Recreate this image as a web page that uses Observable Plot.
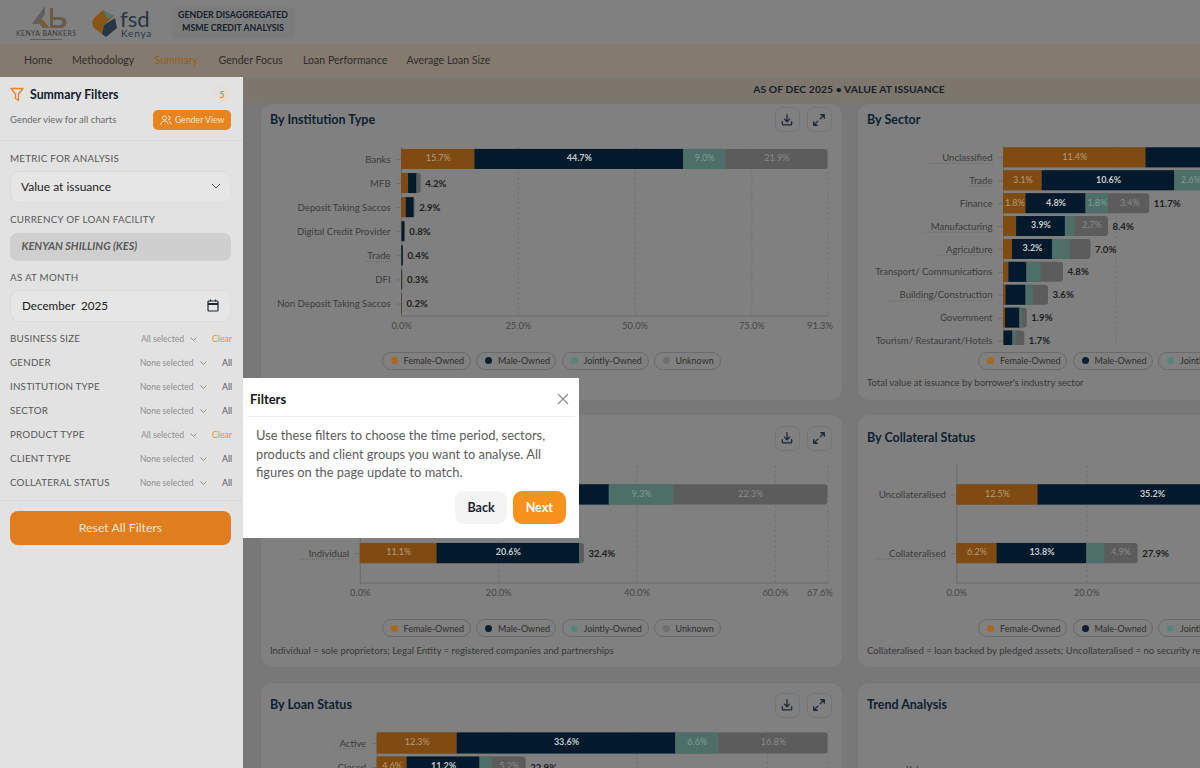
<!DOCTYPE html>
<html><head><meta charset="utf-8">
<script src="https://cdn.jsdelivr.net/npm/d3@7"></script>
<script src="https://cdn.jsdelivr.net/npm/@observablehq/plot@0.6"></script>
<style>
html,body{margin:0;padding:0;width:1200px;height:768px;overflow:hidden;background:#787878;font-family:Lato,sans-serif}
#page{position:absolute;left:0;top:0;width:1200px;height:768px;overflow:hidden}
.a{position:absolute;box-sizing:border-box}
.t{position:absolute;white-space:nowrap;transform:translateY(-50%);line-height:1}
.btn{position:absolute;width:25px;height:25px;box-sizing:border-box;border:1px solid #767676;border-radius:7px;display:flex;align-items:center;justify-content:center}
.pill{position:absolute;box-sizing:border-box;height:18px;border:1px solid #6a6a6a;border-radius:9px;font-size:9px;color:#2e2e2e;display:flex;align-items:center;white-space:nowrap;padding-left:8px}
.pill i{display:inline-block;width:7px;height:7px;border-radius:50%;margin-right:6px}
.plot{position:absolute;overflow:hidden}
.plot svg{display:block}
</style></head><body><div id="page"></div>
<script>
// ---- data (percent of total value at issuance) ----
const seriesNames = ["Female-Owned","Male-Owned","Jointly-Owned","Unknown"];
const seriesColors = ["#7f4b13","#021a2b","#4d6f67","#5c5c5c"];
const labelColors = ["#b89a78","#c6cbd0","#7f9c95","#8a8a8a"];
const legendDots = ["#ac6818","#0a1f31","#55857a","#6f6f6f"];

const instCategories = ["Banks","MFB","Deposit Taking Saccos","Digital Credit Provider","Trade","DFI","Non Deposit Taking Saccos"];
const instFemale  = [15.7,1.5,1.0,0.1,0.05,0.1,0.1];
const instMale    = [44.7,1.8,1.7,0.6,0.3,0.1,0.05];
const instJoint   = [9.0,0.1,0.1,0.0,0.0,0.0,0.0];
const instUnknown = [21.9,0.8,0.1,0.1,0.05,0.1,0.05];
const instTotals  = [91.3,4.2,2.9,0.8,0.4,0.3,0.2];
const instTicks   = [0,25,50,75,91.3];

const sectorCategories = ["Unclassified","Trade","Finance","Manufacturing","Agriculture","Transport/ Communications","Building/Construction","Government","Tourism/ Restaurant/Hotels"];
const sectorFemale  = [11.4,3.1,1.8,1.05,0.72,0.43,0.2,0.16,0.05];
const sectorMale    = [13.2,10.6,4.8,3.9,3.2,1.44,1.6,1.15,0.7];
const sectorJoint   = [2.0,2.6,1.8,0.77,1.44,1.12,0.59,0.2,0.27];
const sectorUnknown = [5.5,3.0,3.4,2.7,1.65,1.76,1.2,0.37,0.67];
const sectorTotals  = [32.1,19.3,11.7,8.4,7.0,4.8,3.6,1.9,1.7];
const sectorTicks   = [0,9,18,27,32.1];

const clientCategories = ["Legal Entity","Individual"];
const clientFemale  = [7.6,11.1];
const clientMale    = [28.4,20.6];
const clientJoint   = [9.3,0.1];
const clientUnknown = [22.3,0.6];
const clientTotals  = [67.6,32.4];
const clientTicks   = [0,20,40,60,67.6];

const collCategories = ["Uncollateralised","Collateralised"];
const collFemale  = [12.5,6.2];
const collMale    = [35.2,13.8];
const collJoint   = [6.6,2.8];
const collUnknown = [17.8,4.9];
const collTotals  = [72.1,27.9];
const collTicks   = [0,20,40,60,72.1];

const loanCategories = ["Active","Closed"];
const loanFemale  = [12.3,4.6];
const loanMale    = [33.6,11.2];
const loanJoint   = [6.6,1.9];
const loanUnknown = [16.8,5.2];
const loanTotals  = [69.3,22.9];
const loanTicks   = [0,20,40,60,69.3];

const navItems = ["Home","Methodology","Summary","Gender Focus","Loan Performance","Average Loan Size"];
const navX = [24,72,154.5,218.5,303,406.5];
const filterRows = ["BUSINESS SIZE","GENDER","INSTITUTION TYPE","SECTOR","PRODUCT TYPE","CLIENT TYPE","COLLATERAL STATUS"];
const filterAll = [true,false,false,false,true,false,false];

// ---- page furniture ----
const page = document.getElementById("page");
function add(html){page.insertAdjacentHTML("beforeend",html);}
function txt(x,y,s,st){add(`<div class="t" style="left:${x}px;top:${y}px;${st||""}">${s}</div>`);}
function box(x,y,w,h,st){add(`<div class="a" style="left:${x}px;top:${y}px;width:${w}px;height:${h}px;${st||""}"></div>`);}

// header
box(0,0,1200,44,"background:#808080");
box(0,44,1200,33,"background:#857a6e");
box(243,77,957,26,"background:#7c766c;border-top:1px solid #76767c");
box(172,7,123,32,"background:#7c7c7c;border-radius:4px");
txt(178,15,"GENDER DISAGGREGATED","font-size:8.8px;font-weight:700;color:#15202b;width:110px;text-align:center");
txt(178,27.5,"MSME CREDIT ANALYSIS","font-size:8.8px;font-weight:700;color:#15202b;width:110px;text-align:center");
add(`<svg class="a" style="left:14px;top:2px" width="70" height="42" viewBox="0 0 70 42">
<path d="M18 22 L31 4 L31 12 L24 22Z" fill="#5f5f5f"/><path d="M27 16 L36 26 L29 26 L23 19Z" fill="#7a5a3a"/>
<path d="M36 6h3v9h8a5 5 0 0 1 0 11H36Zm3 12v5h7a2.500 2.500 0 0 0 0-5Z" fill="#6b5a48"/>
<text x="2" y="34" font-size="7" font-family="Lato" fill="#3a3a3a" textLength="60">KENYA BANKERS</text>
<rect x="16" y="37" width="32" height="1" fill="#6d5a45"/></svg>`);
add(`<svg class="a" style="left:90px;top:8px" width="66" height="32" viewBox="0 0 66 32">
<path d="M13 2 L24 8 L14 17 L12 26 L4 20 Q0 14 5 9Z" fill="#8a5417"/><path d="M13 2 L24 8 L17 11Z" fill="#55786e"/>
<path d="M25 10 L27 20 L16 29 L12 26 L14 17Z" fill="#273644"/>
<text x="30" y="19" font-size="22" font-family="Lato" fill="#2a3542">fsd</text>
<text x="31" y="29" font-size="10" letter-spacing=".8" font-family="Lato" fill="#2a3542">Kenya</text></svg>`);
navItems.forEach((n,i)=>txt(navX[i],59.5,n,`font-size:10.6px;color:${n==="Summary"?"#93601f":"#2d2d2d"}`));
txt(243,89,"AS OF DEC 2025 • VALUE AT ISSUANCE","width:1212px;text-align:center;font-size:10.3px;font-weight:700;color:#16202a;letter-spacing:.1px");

// cards
const cardSt="background:#808080;border:1px solid #777;border-radius:12px";
box(260,103,583,298,cardSt);
box(857,103,400,298,cardSt);
box(260,414,583,254,cardSt);
box(857,414,400,254,cardSt);
box(260,682,583,120,cardSt);
box(857,682,400,120,cardSt);
const titleSt="font-size:12.5px;font-weight:700;color:#0e1f30";
txt(270,119.5,"By Institution Type",titleSt);
txt(867,119.5,"By Sector",titleSt);
txt(867,437.5,"By Collateral Status",titleSt);
txt(270,705,"By Loan Status",titleSt);
txt(867,705,"Trend Analysis",titleSt);
txt(906,770,"Ksh","font-size:9.5px;color:#3a3a3a");
const dl=`<svg width="14" height="14" viewBox="0 0 24 24" fill="none" stroke="#1b2733" stroke-width="2.200" stroke-linecap="round" stroke-linejoin="round"><path d="M12 3v12M7.500 10.500 12 15l4.500-4.500M4 15v4a1.500 1.500 0 0 0 1.500 1.500h13A1.500 1.500 0 0 0 20 19v-4"/></svg>`;
const ex=`<svg width="14" height="14" viewBox="0 0 24 24" fill="none" stroke="#1b2733" stroke-width="2.200" stroke-linecap="round" stroke-linejoin="round"><path d="M14 10 21 3M15 3h6v6M10 14l-7 7M3 15v6h6"/></svg>`;
[107,425.5,692.5].forEach(y=>{
  add(`<div class="btn" style="left:774.5px;top:${y}px">${dl}</div>`);
  add(`<div class="btn" style="left:806.5px;top:${y}px">${ex}</div>`);
});
function legend(xs,y){
  seriesNames.forEach((s,i)=>{
    const wid=[89,80,87,67][i];
    add(`<div class="pill" style="left:${xs+[0,94.500,180,272][i]}px;top:${y}px;width:${wid}px"><i style="background:${legendDots[i]}"></i>${s}</div>`);
  });
}
legend(381.500,351.500); legend(381.500,619); legend(978,351.500); legend(978,619);
txt(270,651,"Individual = sole proprietors; Legal Entity = registered companies and partnerships","font-size:9.6px;color:#383838");
txt(867,383,"Total value at issuance by borrower's industry sector","font-size:9.5px;color:#383838");
txt(867,651,"Collateralised = loan backed by pledged assets; Uncollateralised = no security required","font-size:9.6px;color:#383838");

// ---- charts, drawn by Plot ----
const f1 = d=>d.toFixed(1)+"%";
function chart(o){
  const rows=o.cats.map((c,i)=>({cat:c,total:o.totals[i]}));
  const segs=[];
  o.cats.forEach((c,i)=>{
    let run=0;
    [o.female,o.male,o.joint,o.unknown].forEach((arr,k)=>{
      segs.push({cat:c,series:seriesNames[k],x1:run,x2:run+arr[i],val:arr[i],tone:labelColors[k]});
      run+=arr[i];
    });
  });
  const labelled=segs.filter(d=>d.val>=o.minLabel);
  const maxTotal=d3.max(o.totals);
  const ml=o.x0-o.left, width=ml+o.plotW+20, height=o.rangeH+24;
  const fig=Plot.plot({
    width,height,marginLeft:ml,marginRight:20,marginTop:0,marginBottom:24,
    style:{background:"transparent",fontFamily:"Lato",fontSize:"9.3px",color:"#3c3c3c",overflow:"hidden"},
    x:{domain:[0,maxTotal],range:[ml,ml+o.plotW],label:null},
    y:{domain:o.cats,paddingInner:o.pi,paddingOuter:o.po,label:null,align:0.5,round:false},
    color:{domain:seriesNames,range:seriesColors},
    marks:[
      Plot.ruleX(o.ticks.slice(1),{stroke:"#6f6f6f",strokeDasharray:"2.500,2.500",strokeWidth:0.8}),
      Plot.frame({anchor:"left",stroke:"#6a6a6a"}),
      Plot.frame({anchor:"bottom",stroke:"#6a6a6a"}),
      Plot.axisY({tickSize:5,tickPadding:6,label:null,stroke:"#6f6f6f",fill:"#3c3c3c",fontSize:9.6}),
      Plot.axisX(o.ticks.slice(0,-1),{tickSize:0,tickPadding:6,tickFormat:f1,label:null,fill:"#464646"}),
      Plot.axisX(o.ticks.slice(-1),{tickSize:0,tickPadding:6,dx:-8,tickFormat:f1,label:null,fill:"#464646"}),
      Plot.barX(rows,{x1:()=>0,x2:"total",y:"cat",fill:seriesColors[3],rx:3}),
      Plot.barX(segs.filter(d=>d.series!=="Unknown"),{x1:"x1",x2:"x2",y:"cat",fill:"series"}),
      Plot.text(labelled.filter(d=>d.series!=="Male-Owned"),{x:d=>(d.x1+d.x2)/2,y:"cat",text:d=>f1(d.val),fill:"tone",fontSize:9,dy:-1}),
      Plot.text(labelled.filter(d=>d.series==="Male-Owned"),{x:d=>(d.x1+d.x2)/2,y:"cat",text:d=>f1(d.val),fill:"tone",fontSize:9,fontWeight:700,dy:-1}),
      Plot.text(rows.filter(d=>d.total<maxTotal),{x:"total",y:"cat",text:d=>f1(d.total),textAnchor:"start",dx:4,fill:"#1d1d1d",fontSize:9.6,fontWeight:700})
    ]
  });
  const w=document.createElement("div");
  w.className="plot";
  w.style.cssText=`left:${o.left}px;top:${o.top}px;width:${width}px;height:${o.clipH||height}px`;
  w.appendChild(fig); page.appendChild(w);
  // dotted focus underlines below some category labels
  d3.select(fig).selectAll('g[aria-label="y-axis tick label"] text').each(function(){
    const extra=(o.dotted||{})[this.textContent];
    if(extra===undefined) return;
    const b=this.getBBox();
    d3.select(this.parentNode).append("line")
      .attr("transform",this.getAttribute("transform"))
      .attr("x1",b.x-extra).attr("x2",b.x+b.width)
      .attr("y1",b.y+b.height+0.5).attr("y2",b.y+b.height+0.5)
      .attr("stroke","#686868").attr("stroke-dasharray","1,1.200").attr("fill","none");
  });
}
chart({cats:instCategories,female:instFemale,male:instMale,joint:instJoint,unknown:instUnknown,totals:instTotals,ticks:instTicks,
  left:262,x0:401.100,plotW:426.400,top:146.500,rangeH:168.500,pi:.17,po:.08,minLabel:3,dotted:{"Trade":2}});
chart({cats:sectorCategories,female:sectorFemale,male:sectorMale,joint:sectorJoint,unknown:sectorUnknown,totals:sectorTotals,ticks:sectorTicks,
  left:860,x0:1003,plotW:32.100*12.500,top:146.300,rangeH:205.900,clipH:198.700,pi:.127,po:.06,minLabel:1.8,
  dotted:{"Unclassified":12,"Trade":3,"Manufacturing":7,"Agriculture":10,"Building/Construction":10}});
chart({cats:clientCategories,female:clientFemale,male:clientMale,joint:clientJoint,unknown:clientUnknown,totals:clientTotals,ticks:clientTicks,
  left:262,x0:359.800,plotW:467.600,top:465,rangeH:117.500,pi:.655,po:.33,minLabel:3,dotted:{"Individual":10}});
chart({cats:collCategories,female:collFemale,male:collMale,joint:collJoint,unknown:collUnknown,totals:collTotals,ticks:collTicks,
  left:860,x0:956.300,plotW:72.100*6.500,top:465,rangeH:117.500,pi:.655,po:.33,minLabel:3,dotted:{"Collateralised":14}});
chart({cats:loanCategories,female:loanFemale,male:loanMale,joint:loanJoint,unknown:loanUnknown,totals:loanTotals,ticks:loanTicks,
  left:262,x0:376.700,plotW:450.800,top:731,rangeH:48,pi:.127,po:.06,minLabel:3,dotted:{"Active":5}});

// ---- sidebar ----
box(0,77,243,691,"background:#e2e2e2;z-index:2");
function side(x,y,s,st){add(`<div class="t" style="z-index:3;left:${x}px;top:${y}px;${st||""}">${s}</div>`);}
function sbox(x,y,w,h,st){add(`<div class="a" style="z-index:3;left:${x}px;top:${y}px;width:${w}px;height:${h}px;${st||""}"></div>`);}
add(`<svg class="a" style="z-index:3;left:10px;top:87px" width="14" height="15" viewBox="0 0 14 15" fill="none" stroke="#e8841f" stroke-width="1.300" stroke-linejoin="round"><path d="M1 1.500h12L8.500 7v6.500L5.500 11.500V7Z"/></svg>`);
side(30,94.500,"Summary Filters","font-size:12.300px;font-weight:700;color:#10202f");
sbox(214,86,16,16,"background:#e7dfd3;border-radius:50%");
side(214,94.500,"5","width:16px;text-align:center;font-size:8.500px;font-weight:700;color:#e8841f");
side(10,120,"Gender view for all charts","font-size:9.500px;color:#6a6a6a");
sbox(153,110,78,20,"background:#e8841f;border-radius:5px");
add(`<svg class="a" style="z-index:4;left:160px;top:114px" width="12" height="12" viewBox="0 0 24 24" fill="none" stroke="#f7e5d0" stroke-width="2"><circle cx="9" cy="8" r="4"/><path d="M2 21c0-5 3-7 7-7s7 2 7 7M16 4a4 4 0 0 1 0 8M18 15c3 1 4 3 4 6"/></svg>`);
side(175,120,"Gender View","z-index:4;font-size:8.700px;color:#f7e5d0");
sbox(0,140,243,1,"background:#d8d8d8");
const lab="font-size:9.800px;color:#585858;letter-spacing:.25px";
side(10,158.500,"METRIC FOR ANALYSIS",lab);
sbox(10,171,221,32,"background:#e6e6e6;border:1px solid #dcdcdc;border-radius:9px");
side(21,187,"Value at issuance","font-size:12px;color:#1b1b1b");
add(`<svg class="a" style="z-index:4;left:211px;top:183px" width="10" height="7" viewBox="0 0 10 7" fill="none" stroke="#555" stroke-width="1"><path d="M1 1l4 4 4-4"/></svg>`);
side(10,219.500,"CURRENCY OF LOAN FACILITY",lab);
sbox(10,232.500,221,28,"background:#cfcfcf;border-radius:8px");
side(21.500,246,"KENYAN SHILLING (KES)","font-size:10.900px;font-style:italic;font-weight:700;color:#5a5a5a");
side(10,277.500,"AS AT MONTH",lab);
sbox(10,290,221,32,"background:#e6e6e6;border:1px solid #dcdcdc;border-radius:9px");
side(22,305.500,"December&nbsp; 2025","font-size:11.700px;color:#1b1b1b");
add(`<svg class="a" style="z-index:4;left:207px;top:299px" width="12" height="13" viewBox="0 0 12 13" fill="none" stroke="#1b2733" stroke-width="1.200"><rect x="1" y="2" width="10" height="10" rx="1"/><path d="M1 5h10" stroke-width="2"/><path d="M3.500 .5v2M8.500 .5v2"/></svg>`);
filterRows.forEach((r,i)=>{
  const y=338.5+i*24, on=filterAll[i];
  side(10,y,r,"font-size:9.800px;color:#585858;letter-spacing:.2px");
  side(on?141:140,y,on?"All selected":"None selected","font-size:8.500px;color:#8e8e8e");
  const cx=on?190:200;
  add(`<svg class="a" style="z-index:4;left:${cx}px;top:${y-2}px" width="7" height="5" viewBox="0 0 7 5" fill="none" stroke="#888" stroke-width=".9"><path d="M.5 .5l3 3 3-3"/></svg>`);
  side(on?212:222,y,on?"Clear":"All",`font-size:8.800px;color:${on?"#e8912d":"#585858"}`);
});
sbox(0,500,243,1,"background:#d8d8d8");
sbox(10,511,221,33.500,"background:#e07e1f;border-radius:8px");
side(10,527.500,"Reset All Filters","z-index:4;width:221px;text-align:center;font-size:12.300px;color:#f7e5d0");

// ---- tour popover ----
box(243,378,336,159.500,"background:#fff;z-index:5");
function pop(x,y,s,st){add(`<div class="t" style="z-index:6;left:${x}px;top:${y}px;${st||""}">${s}</div>`);}
pop(250,398.500,"Filters","font-size:13px;font-weight:700;color:#10141a");
add(`<svg class="a" style="z-index:6;left:557px;top:392.500px" width="12" height="12" viewBox="0 0 12 12" stroke="#8e8e8e" stroke-width="1.200"><path d="M1 1l10 10M11 1L1 11"/></svg>`);
add(`<div class="a" style="z-index:6;left:247px;top:415.500px;width:328px;height:1px;background:#ececec"></div>`);
["Use these filters to choose the time period, sectors,","products and client groups you want to analyse. All","figures on the page update to match."].forEach((l,i)=>
  pop(256,435+i*18.500,l,"font-size:12.850px;color:#5c5c5c"));
add(`<div class="a" style="z-index:6;left:455px;top:490.500px;width:52px;height:33px;background:#f4f4f4;border-radius:9px"></div>`);
pop(455,507.500,"Back","width:52px;text-align:center;font-size:12.500px;font-weight:700;color:#1a2530");
add(`<div class="a" style="z-index:6;left:513px;top:490.500px;width:52.500px;height:33px;background:#f7921e;border-radius:9px"></div>`);
pop(513,507.500,"Next","width:52.500px;text-align:center;font-size:12.500px;font-weight:700;color:#fff");
</script></body></html>
